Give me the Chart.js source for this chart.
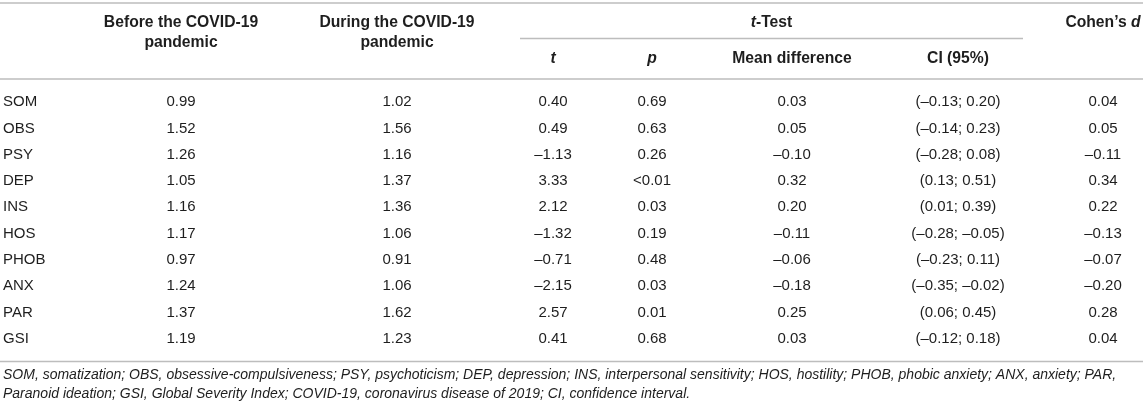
<!DOCTYPE html>
<html>
<head>
<meta charset="utf-8">
<script src="https://cdn.jsdelivr.net/npm/chart.js@4.4.1/dist/chart.umd.min.js"></script>
<style>
  html, body { margin: 0; padding: 0; background: #fff; }
  #wrap { width: 1143px; height: 408px; position: relative; }
</style>
</head>
<body>
<div id="wrap"><canvas id="tableChart"></canvas></div>
<script>
// ===== SCL-90 subscales before / during COVID-19 (table drawn with Chart.js) =====

const categories = ["SOM", "OBS", "PSY", "DEP", "INS", "HOS", "PHOB", "ANX", "PAR", "GSI"];
const beforeMeans = [0.99, 1.52, 1.26, 1.05, 1.16, 1.17, 0.97, 1.24, 1.37, 1.19];
const duringMeans = [1.02, 1.56, 1.16, 1.37, 1.36, 1.06, 0.91, 1.06, 1.62, 1.23];
const tValues = [0.40, 0.49, -1.13, 3.33, 2.12, -1.32, -0.71, -2.15, 2.57, 0.41];
const pValues = ["0.69", "0.63", "0.26", "<0.01", "0.03", "0.19", "0.48", "0.03", "0.01", "0.68"];
const meanDiffs = [0.03, 0.05, -0.10, 0.32, 0.20, -0.11, -0.06, -0.18, 0.25, 0.03];
const ciLower = [-0.13, -0.14, -0.28, 0.13, 0.01, -0.28, -0.23, -0.35, 0.06, -0.12];
const ciUpper = [0.20, 0.23, 0.08, 0.51, 0.39, -0.05, 0.11, -0.02, 0.45, 0.18];
const cohensD = [0.04, 0.05, -0.11, 0.34, 0.22, -0.13, -0.07, -0.20, 0.28, 0.04];

const footnoteLines = [
  "SOM, somatization; OBS, obsessive-compulsiveness; PSY, psychoticism; DEP, depression; INS, interpersonal sensitivity; HOS, hostility; PHOB, phobic anxiety; ANX, anxiety; PAR,",
  "Paranoid ideation; GSI, Global Severity Index; COVID-19, coronavirus disease of 2019; CI, confidence interval.",
];

// 레이아웃 (x 스케일 값 = 열 중심)
const colX = [3, 181, 397, 553, 652, 792, 958, 1103];
const FONT = '"Liberation Sans", Arial, Helvetica, sans-serif';
const TEXT = "#1e1e1e";
const RULE = "#bdbdbd";
const HEAD_SIZE = 15.7;

const fmt = (v) => (v < 0 ? "\u2013" : "") + Math.abs(v).toFixed(2);

const columns = [
  { text: categories, align: "left" },
  { text: beforeMeans.map(fmt) },
  { text: duringMeans.map(fmt) },
  { text: tValues.map(fmt) },
  { text: pValues },
  { text: meanDiffs.map(fmt) },
  { text: ciLower.map((lo, i) => "(" + fmt(lo) + "; " + fmt(ciUpper[i]) + ")") },
  { text: cohensD.map(fmt) },
];

// draw a line made of several font runs, centred on cx
function drawRuns(ctx, runs, cx, y, size) {
  let total = 0;
  runs.forEach((r) => {
    ctx.font = `${r[1]} ${size}px ${FONT}`;
    total += ctx.measureText(r[0]).width;
  });
  let x = cx - total / 2;
  ctx.textAlign = "left";
  runs.forEach((r) => {
    ctx.font = `${r[1]} ${size}px ${FONT}`;
    ctx.fillText(r[0], x, y);
    x += ctx.measureText(r[0]).width;
  });
}

function hline(ctx, x1, x2, y) {
  ctx.beginPath();
  ctx.moveTo(x1, y);
  ctx.lineTo(x2, y);
  ctx.stroke();
}

const tablePlugin = {
  id: "tableText",
  afterDatasetsDraw(chart) {
    const { ctx, chartArea, scales } = chart;
    const xs = scales.x;
    const top = chartArea.top;
    const bottom = chartArea.bottom;
    const W = chart.width;

    ctx.save();
    ctx.fillStyle = TEXT;
    ctx.textBaseline = "middle";

    // cells
    chart.data.datasets.forEach((ds, di) => {
      const meta = chart.getDatasetMeta(di);
      ctx.font = `15px ${FONT}`;
      ctx.textAlign = ds.align || "center";
      meta.data.forEach((pt, i) => {
        ctx.fillText(ds.cellText[i], pt.x, pt.y);
      });
    });

    // header
    const cx = (c) => xs.getPixelForValue(colX[c]);
    const y1 = top - 66, y2 = top - 46, ySub = top - 30;
    const hs = HEAD_SIZE;
    drawRuns(ctx, [["Before the COVID-19", "bold"]], cx(1), y1, hs);
    drawRuns(ctx, [["pandemic", "bold"]], cx(1), y2, hs);
    drawRuns(ctx, [["During the COVID-19", "bold"]], cx(2), y1, hs);
    drawRuns(ctx, [["pandemic", "bold"]], cx(2), y2, hs);
    const tStart = xs.getPixelForValue(520), tEnd = xs.getPixelForValue(1023);
    drawRuns(ctx, [["t", "italic bold"], ["-Test", "bold"]], (tStart + tEnd) / 2, y1, hs);
    drawRuns(ctx, [["Cohen\u2019s ", "bold"], ["d", "italic bold"]], cx(7), y1, hs);
    drawRuns(ctx, [["t", "italic bold"]], cx(3), ySub, hs);
    drawRuns(ctx, [["p", "italic bold"]], cx(4), ySub, hs);
    drawRuns(ctx, [["Mean difference", "bold"]], cx(5), ySub, hs);
    drawRuns(ctx, [["CI (95%)", "bold"]], cx(6), ySub, hs);

    // rules
    ctx.strokeStyle = RULE;
    ctx.lineWidth = 1.5;
    hline(ctx, 0, W, top - 86);
    hline(ctx, tStart, tEnd, top - 50.5);
    hline(ctx, 0, W, top - 10);
    hline(ctx, 0, W, bottom + 9.5);

    // footnote
    ctx.textAlign = "left";
    ctx.font = `italic 14px ${FONT}`;
    ctx.fillText(footnoteLines[0], 3, bottom + 23);
    ctx.fillText(footnoteLines[1], 3, bottom + 42);
    ctx.restore();
  },
};

function initTableChart() {
  const canvas = document.getElementById("tableChart");
  if (!canvas) return;

  const datasets = columns.map((col, c) => ({
    label: "col" + c,
    data: categories.map((cat) => ({ x: colX[c], y: cat })),
    cellText: col.text,
    align: col.align,
    pointRadius: 0,
    pointHoverRadius: 0,
  }));

  new Chart(canvas, {
    type: "scatter",
    data: { datasets },
    options: {
      responsive: true,
      maintainAspectRatio: false,
      animation: false,
      events: [],
      layout: { padding: { left: 0, right: 0, top: 89, bottom: 56 } },
      scales: {
        x: { type: "linear", min: 0, max: 1143, display: false },
        y: { type: "category", labels: categories, offset: true, display: false },
      },
      plugins: {
        legend: { display: false },
        tooltip: { enabled: false },
      },
    },
    plugins: [tablePlugin],
  });
}

initTableChart();
</script>
</body>
</html>
